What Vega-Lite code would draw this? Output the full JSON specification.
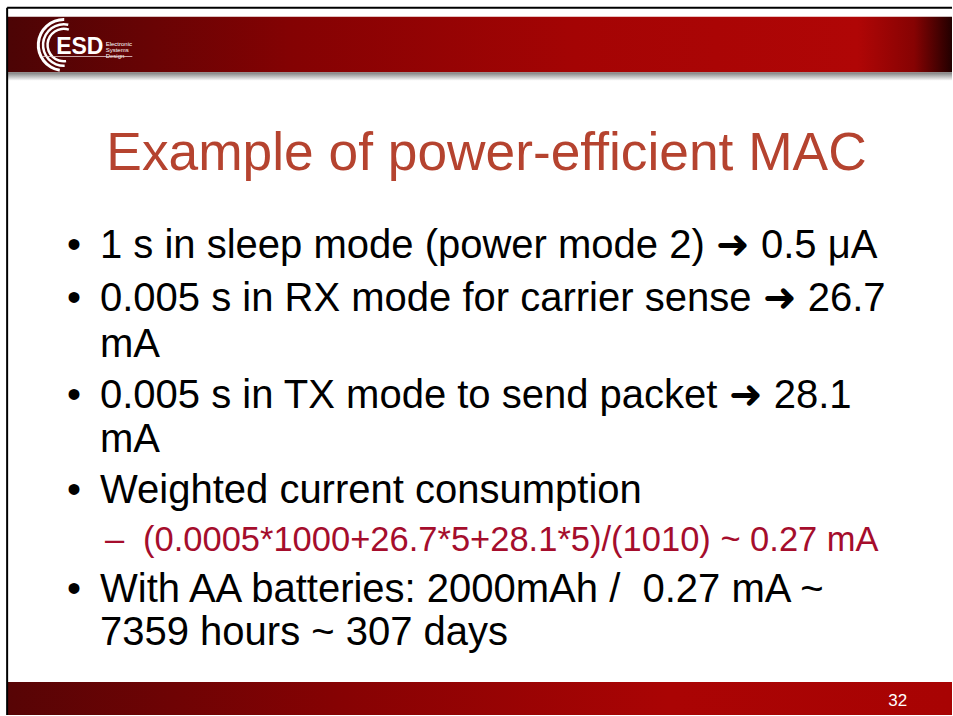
{
  "$schema": "https://vega.github.io/schema/vega-lite/v6.json",
  "width": 953,
  "height": 716,
  "autosize": {"type": "fit", "contains": "padding"},
  "padding": 0,
  "background": "white",
  "config": {"view": {"stroke": null}, "font": "Liberation Sans"},
  "datasets": {
    "slide": [{"part": "slide"}],
    "lines": [
      {"line": 0, "level": 1, "marker": "•", "text": "1 s in sleep mode (power mode 2) ➜ 0.5 μA"},
      {"line": 1, "level": 1, "marker": "•", "text": "0.005 s in RX mode for carrier sense ➜ 26.7"},
      {"line": 2, "level": 1, "marker": "", "text": "mA"},
      {"line": 3, "level": 1, "marker": "•", "text": "0.005 s in TX mode to send packet ➜ 28.1"},
      {"line": 4, "level": 1, "marker": "", "text": "mA"},
      {"line": 5, "level": 1, "marker": "•", "text": "Weighted current consumption"},
      {"line": 6, "level": 2, "marker": "–", "text": "(0.0005*1000+26.7*5+28.1*5)/(1010) ~ 0.27 mA"},
      {"line": 7, "level": 1, "marker": "•", "text": "With AA batteries: 2000mAh /\u00a0 0.27 mA ~"},
      {"line": 8, "level": 1, "marker": "", "text": "7359 hours ~ 307 days"}
    ],
    "title": [{"text": "Example of power-efficient MAC"}],
    "footer": [{"page": "32"}],
    "logo": [{"name": "ESD", "line1": "Electronic", "line2": "Systems", "line3": "Design"}]
  },
  "layer": [
    {
      "data": {"name": "slide"},
      "mark": {"type": "rect", "color": {"gradient": "linear", "x1": 0, "x2": 1, "y1": 0, "y2": 0, "stops": [
        {"offset": 0, "color": "#4c0405"},
        {"offset": 0.3, "color": "#840203"},
        {"offset": 0.6, "color": "#a40404"},
        {"offset": 0.9, "color": "#b00606"},
        {"offset": 0.96, "color": "#860303"},
        {"offset": 1, "color": "#220000"}]}},
      "encoding": {
        "x": {"datum": 0.84, "type": "quantitative", "scale": {"domain": [0, 100], "nice": false, "zero": false}, "axis": null},
        "x2": {"datum": 100},
        "y": {"datum": 2.35, "type": "quantitative", "scale": {"domain": [0, 100], "nice": false, "zero": false, "reverse": true}, "axis": null},
        "y2": {"datum": 10.1}
      }
    },
    {
      "data": {"name": "slide"},
      "mark": {"type": "rect", "color": {"gradient": "linear", "x1": 0, "x2": 0, "y1": 0, "y2": 1, "stops": [
        {"offset": 0, "color": "#7a7a7a"},
        {"offset": 1, "color": "#ffffff"}]}},
      "encoding": {
        "x": {"datum": 0.84, "type": "quantitative", "scale": {"domain": [0, 100], "nice": false, "zero": false}, "axis": null},
        "x2": {"datum": 100},
        "y": {"datum": 10.1, "type": "quantitative", "scale": {"domain": [0, 100], "nice": false, "zero": false, "reverse": true}, "axis": null},
        "y2": {"datum": 11.3}
      }
    },
    {
      "data": {"name": "slide"},
      "mark": {"type": "rect", "color": {"gradient": "linear", "x1": 0, "x2": 1, "y1": 0, "y2": 0, "stops": [
        {"offset": 0, "color": "#570405"},
        {"offset": 0.35, "color": "#860203"},
        {"offset": 0.7, "color": "#aa0404"},
        {"offset": 1, "color": "#a80303"}]}},
      "encoding": {
        "x": {"datum": 0.84, "type": "quantitative", "scale": {"domain": [0, 100], "nice": false, "zero": false}, "axis": null},
        "x2": {"datum": 100},
        "y": {"datum": 95.4, "type": "quantitative", "scale": {"domain": [0, 100], "nice": false, "zero": false, "reverse": true}, "axis": null},
        "y2": {"datum": 100}
      }
    },
    {
      "data": {"name": "slide"},
      "mark": {"type": "rule", "color": "#000000", "strokeWidth": 2},
      "encoding": {
        "x": {"datum": 0.75, "type": "quantitative", "scale": {"domain": [0, 100], "nice": false, "zero": false}, "axis": null},
        "x2": {"datum": 100},
        "y": {"datum": 1.1, "type": "quantitative", "scale": {"domain": [0, 100], "nice": false, "zero": false, "reverse": true}, "axis": null}
      }
    },
    {
      "data": {"name": "slide"},
      "mark": {"type": "rule", "color": "#000000", "strokeWidth": 2},
      "encoding": {
        "x": {"datum": 0.75, "type": "quantitative", "scale": {"domain": [0, 100], "nice": false, "zero": false}, "axis": null},
        "y": {"datum": 1.1, "type": "quantitative", "scale": {"domain": [0, 100], "nice": false, "zero": false, "reverse": true}, "axis": null},
        "y2": {"datum": 100}
      }
    },
    {
      "data": {"name": "slide"},
      "mark": {"type": "arc", "color": "#ffffff", "innerRadius": 24, "outerRadius": 27, "theta": 3.3, "theta2": 6.3},
      "encoding": {
        "x": {"datum": 6.7, "type": "quantitative", "scale": {"domain": [0, 100], "nice": false, "zero": false}, "axis": null},
        "y": {"datum": 6.3, "type": "quantitative", "scale": {"domain": [0, 100], "nice": false, "zero": false, "reverse": true}, "axis": null}
      }
    },
    {
      "data": {"name": "slide"},
      "mark": {"type": "arc", "color": "#ffffff", "innerRadius": 19.5, "outerRadius": 22, "theta": 3.1, "theta2": 6.5},
      "encoding": {
        "x": {"datum": 6.7, "type": "quantitative", "scale": {"domain": [0, 100], "nice": false, "zero": false}, "axis": null},
        "y": {"datum": 6.3, "type": "quantitative", "scale": {"domain": [0, 100], "nice": false, "zero": false, "reverse": true}, "axis": null}
      }
    },
    {
      "data": {"name": "slide"},
      "mark": {"type": "arc", "color": "#ffffff", "innerRadius": 15, "outerRadius": 17.5, "theta": 3.0, "theta2": 6.6},
      "encoding": {
        "x": {"datum": 6.7, "type": "quantitative", "scale": {"domain": [0, 100], "nice": false, "zero": false}, "axis": null},
        "y": {"datum": 6.3, "type": "quantitative", "scale": {"domain": [0, 100], "nice": false, "zero": false, "reverse": true}, "axis": null}
      }
    },
    {
      "data": {"name": "logo"},
      "mark": {"type": "text", "color": "#ffffff", "fontSize": 23, "fontWeight": "bold", "align": "left", "baseline": "alphabetic"},
      "encoding": {
        "text": {"field": "name"},
        "x": {"datum": 5.9, "type": "quantitative", "scale": {"domain": [0, 100], "nice": false, "zero": false}, "axis": null},
        "y": {"datum": 7.5, "type": "quantitative", "scale": {"domain": [0, 100], "nice": false, "zero": false, "reverse": true}, "axis": null}
      }
    },
    {
      "data": {"name": "logo"},
      "mark": {"type": "text", "color": "#ffffff", "fontSize": 6, "align": "left", "baseline": "middle", "lineHeight": 6},
      "encoding": {
        "text": {"value": ["Electronic", "Systems", "Design"]},
        "x": {"datum": 11.1, "type": "quantitative", "scale": {"domain": [0, 100], "nice": false, "zero": false}, "axis": null},
        "y": {"datum": 6.1, "type": "quantitative", "scale": {"domain": [0, 100], "nice": false, "zero": false, "reverse": true}, "axis": null}
      }
    },
    {
      "data": {"name": "slide"},
      "mark": {"type": "rule", "color": "#e8d0d0", "strokeWidth": 1, "opacity": 0.8},
      "encoding": {
        "x": {"datum": 4.4, "type": "quantitative", "scale": {"domain": [0, 100], "nice": false, "zero": false}, "axis": null},
        "x2": {"datum": 13.9},
        "y": {"datum": 7.9, "type": "quantitative", "scale": {"domain": [0, 100], "nice": false, "zero": false, "reverse": true}, "axis": null}
      }
    },
    {
      "data": {"name": "title"},
      "mark": {"type": "text", "color": "#b5432f", "fontSize": 53.3, "align": "center", "baseline": "middle"},
      "encoding": {
        "text": {"field": "text"},
        "x": {"datum": 51.1, "type": "quantitative", "scale": {"domain": [0, 100], "nice": false, "zero": false}, "axis": null},
        "y": {"datum": 21.6, "type": "quantitative", "scale": {"domain": [0, 100], "nice": false, "zero": false, "reverse": true}, "axis": null}
      }
    },
    {
      "data": {"name": "lines"},
      "mark": {"type": "text", "align": "left", "baseline": "middle"},
      "encoding": {
        "text": {"field": "text"},
        "x": {"field": "level", "type": "quantitative", "scale": {"domain": [1, 2], "range": [100, 143], "nice": false, "zero": false}, "axis": null},
        "y": {"field": "line", "type": "quantitative", "scale": {"domain": [0, 1, 2, 3, 4, 5, 6, 7, 8], "range": [246, 299, 345, 396, 440, 491, 541, 590, 633], "nice": false, "zero": false}, "axis": null},
        "color": {"field": "level", "type": "ordinal", "scale": {"domain": [1, 2], "range": ["#000000", "#a50d2c"]}, "legend": null},
        "size": {"field": "level", "type": "ordinal", "scale": {"domain": [1, 2], "range": [40, 34.5]}, "legend": null}
      }
    },
    {
      "data": {"name": "lines"},
      "transform": [{"filter": "datum.marker != ''"}],
      "mark": {"type": "text", "align": "left", "baseline": "middle"},
      "encoding": {
        "text": {"field": "marker"},
        "x": {"field": "level", "type": "quantitative", "scale": {"domain": [1, 2], "range": [67, 105], "nice": false, "zero": false}, "axis": null},
        "y": {"field": "line", "type": "quantitative", "scale": {"domain": [0, 1, 2, 3, 4, 5, 6, 7, 8], "range": [246, 299, 345, 396, 440, 491, 541, 590, 633], "nice": false, "zero": false}, "axis": null},
        "color": {"field": "level", "type": "ordinal", "scale": {"domain": [1, 2], "range": ["#000000", "#a50d2c"]}, "legend": null},
        "size": {"field": "level", "type": "ordinal", "scale": {"domain": [1, 2], "range": [40, 34.5]}, "legend": null}
      }
    },
    {
      "data": {"name": "footer"},
      "mark": {"type": "text", "color": "#ffffff", "fontSize": 17, "align": "center", "baseline": "middle"},
      "encoding": {
        "text": {"field": "page"},
        "x": {"datum": 94.3, "type": "quantitative", "scale": {"domain": [0, 100], "nice": false, "zero": false}, "axis": null},
        "y": {"datum": 98.0, "type": "quantitative", "scale": {"domain": [0, 100], "nice": false, "zero": false, "reverse": true}, "axis": null}
      }
    }
  ],
  "resolve": {"scale": {"x": "independent", "y": "independent", "color": "independent", "size": "independent"}}
}
